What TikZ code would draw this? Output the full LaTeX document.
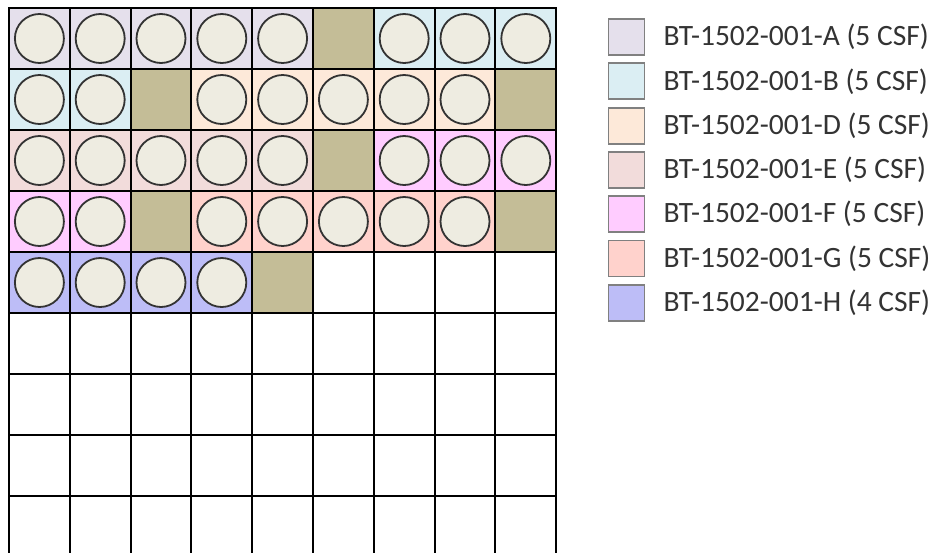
\documentclass[tikz,border=0pt]{standalone}
\usepackage{fontspec}
\setmainfont{Carlito}
\usepackage{tikz}
\usetikzlibrary{positioning}

\definecolor{tubeA}{HTML}{E5E0EC}
\definecolor{tubeB}{HTML}{DBEEF3}
\definecolor{tubeD}{HTML}{FDE9D9}
\definecolor{tubeE}{HTML}{F2DCDB}
\definecolor{tubeF}{HTML}{FFCCFF}
\definecolor{tubeG}{HTML}{FFD2CC}
\definecolor{tubeH}{HTML}{BDBDF7}
\definecolor{spacer}{HTML}{C4BD97}
\definecolor{pelletfill}{HTML}{EEECE1}

\begin{document}
\begin{tikzpicture}[
		x=1pt, y=-1pt,
		cell/.style={draw, line width=2pt, minimum width=60.8pt, minimum height=61pt, inner sep=0pt},
		pellet/.style={draw=black!80, line width=1.8pt, circle, fill=pelletfill, minimum size=49pt, inner sep=0pt},
		key/.style={draw=black!50, line width=1.8pt, minimum size=36pt, inner sep=0pt},
		keytext/.style={font=\fontsize{29.5}{30}\selectfont, text=black!80, inner sep=0pt, anchor=west}
	]
		\clip (0,0) rectangle (937,552);

		% Row 1
		\foreach \col/\clr in {1/tubeA,2/tubeA,3/tubeA,4/tubeA,5/tubeA,6/spacer,7/tubeB,8/tubeB,9/tubeB}
			\node[cell, fill=\clr] (r1c\col) at ({9+60.8*(\col-0.5)}, 38.5) {};
		\foreach \col in {1,2,3,4,5,7,8,9}
			\node[pellet] (p1c\col) at (r1c\col) {};

		% Row 2
		\foreach \col/\clr in {1/tubeB,2/tubeB,3/spacer,4/tubeD,5/tubeD,6/tubeD,7/tubeD,8/tubeD,9/spacer}
			\node[cell, fill=\clr] (r2c\col) at ({9+60.8*(\col-0.5)}, 99.5) {};
		\foreach \col in {1,2,4,5,6,7,8}
			\node[pellet] (p2c\col) at (r2c\col) {};

		% Row 3
		\foreach \col/\clr in {1/tubeE,2/tubeE,3/tubeE,4/tubeE,5/tubeE,6/spacer,7/tubeF,8/tubeF,9/tubeF}
			\node[cell, fill=\clr] (r3c\col) at ({9+60.8*(\col-0.5)}, 160.5) {};
		\foreach \col in {1,2,3,4,5,7,8,9}
			\node[pellet] (p3c\col) at (r3c\col) {};

		% Row 4
		\foreach \col/\clr in {1/tubeF,2/tubeF,3/spacer,4/tubeG,5/tubeG,6/tubeG,7/tubeG,8/tubeG,9/spacer}
			\node[cell, fill=\clr] (r4c\col) at ({9+60.8*(\col-0.5)}, 221.5) {};
		\foreach \col in {1,2,4,5,6,7,8}
			\node[pellet] (p4c\col) at (r4c\col) {};

		% Row 5
		\foreach \col/\clr in {1/tubeH,2/tubeH,3/tubeH,4/tubeH,5/spacer,6/white,7/white,8/white,9/white}
			\node[cell, fill=\clr] (r5c\col) at ({9+60.8*(\col-0.5)}, 282.5) {};
		\foreach \col in {1,2,3,4}
			\node[pellet] (p5c\col) at (r5c\col) {};

		% Rows 6-9: empty
		\foreach \row in {6,7,8,9}
			\foreach \col in {1,...,9}
				\node[cell, fill=white] (r\row c\col) at ({9+60.8*(\col-0.5)}, {8+61*(\row-0.5)}) {};

		% Legend
		\node[key, fill=tubeA] (kA) at (626.5, 37) {};
		\node[keytext, right=18pt of kA] (tA) {BT-1502-001-A (5 CSF)};
		\node[key, fill=tubeB] (kB) at (626.5, 81.3) {};
		\node[keytext, right=18pt of kB] (tB) {BT-1502-001-B (5 CSF)};
		\node[key, fill=tubeD] (kD) at (626.5, 125.6) {};
		\node[keytext, right=18pt of kD] (tD) {BT-1502-001-D (5 CSF)};
		\node[key, fill=tubeE] (kE) at (626.5, 169.9) {};
		\node[keytext, right=18pt of kE] (tE) {BT-1502-001-E (5 CSF)};
		\node[key, fill=tubeF] (kF) at (626.5, 214.2) {};
		\node[keytext, right=18pt of kF] (tF) {BT-1502-001-F (5 CSF)};
		\node[key, fill=tubeG] (kG) at (626.5, 258.5) {};
		\node[keytext, right=18pt of kG] (tG) {BT-1502-001-G (5 CSF)};
		\node[key, fill=tubeH] (kH) at (626.5, 302.8) {};
		\node[keytext, right=18pt of kH] (tH) {BT-1502-001-H (4 CSF)};
	\end{tikzpicture}
\end{document}
